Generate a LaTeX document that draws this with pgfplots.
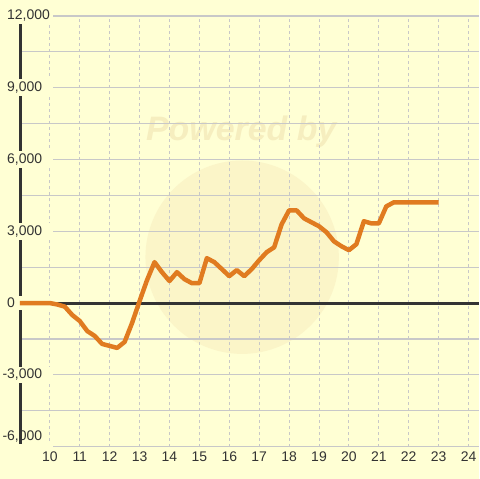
\documentclass[border=0pt]{standalone}
\usepackage{pgfplots}
\pgfplotsset{compat=1.18}
\usepackage{fontspec}
\setmainfont{Liberation Sans}
\definecolor{bg}{HTML}{FFFFD4}
\definecolor{gridc}{HTML}{C8C8C8}
\definecolor{txt}{HTML}{333333}
\definecolor{lineo}{HTML}{E07B20}
\definecolor{wm}{HTML}{FBF5C8}
\definecolor{wmt}{HTML}{F6EEBF}
\begin{document}
\begin{tikzpicture}
\begin{axis}[
  at={(0pt,0pt)}, anchor=south west,
  set layers, clip=false,
  scale only axis, width=460pt, height=432pt,
  xmin=9, xmax=24.3333, ymin=-6000, ymax=12000,
  scaled ticks=false,
  axis line style={draw=none}, major tick length=0pt, minor tick length=0pt,
  xtick={10,...,24},
  ytick={-6000,-3000,0,3000,6000,9000,12000},
  minor ytick={-4500,-1500,1500,4500,7500,10500},
  yticklabels={{\raisebox{6pt}[0pt][0pt]{\llap{-}6,000}},{\llap{-}3,000},{0},{3,000},{6,000},{9,000},{12,000}},
  xmajorgrids, ymajorgrids, yminorgrids,
  x grid style={gridc, line width=1pt, dash pattern=on 3pt off 3pt},
  y grid style={gridc, line width=1.2pt},
  minor grid style={gridc, line width=1.2pt},
  /pgf/number format/assume math mode=true,
  xticklabel style={font=\fontsize{14}{16}\selectfont, text=txt, yshift=-2pt},
  yticklabel style={font=\fontsize{14}{16}\selectfont, text=txt, anchor=west,
     xshift=-13pt, fill=bg, inner xsep=0pt, inner ysep=2.5pt, text width=46pt, align=left},
]
\begin{pgfonlayer}{axis background}
\fill[bg] ([shift={(-20pt,-32pt)}]rel axis cs:0,0) rectangle ([shift={(0pt,16pt)}]rel axis cs:1,1);
\fill[wm] (axis cs:16.43,1917) circle[radius=97pt];
\node[text=wmt, font=\bfseries\itshape\fontsize{34}{36}\selectfont] at (axis cs:16.4,7150) {Powered by};
\end{pgfonlayer}
\begin{pgfonlayer}{axis lines}
\draw[txt, line width=3.5pt] (axis cs:9.02,-6000) -- (axis cs:9.02,12000);
\end{pgfonlayer}
\draw[txt, line width=3pt] (axis cs:9,0) -- (axis cs:24.3333,0);
\addplot[lineo, line width=4.5pt, line join=round, line cap=butt] table {
x y
9 0
10 0
10.25 -60
10.5 -150
10.75 -500
11 -750
11.25 -1170
11.5 -1375
11.75 -1710
12 -1790
12.25 -1875
12.5 -1625
12.75 -830
13 80
13.25 960
13.5 1710
13.75 1290
14 920
14.25 1290
14.5 1000
14.75 830
15 830
15.25 1875
15.5 1710
15.75 1420
16 1125
16.25 1375
16.5 1125
16.75 1420
17 1790
17.25 2125
17.5 2330
17.75 3290
18 3875
18.25 3875
18.5 3540
18.75 3375
19 3210
19.25 2960
19.5 2580
19.75 2375
20 2210
20.25 2460
20.5 3420
20.75 3330
21 3330
21.25 4040
21.5 4210
22 4210
22.5 4210
23 4210
};
\end{axis}
\end{tikzpicture}
\end{document}
